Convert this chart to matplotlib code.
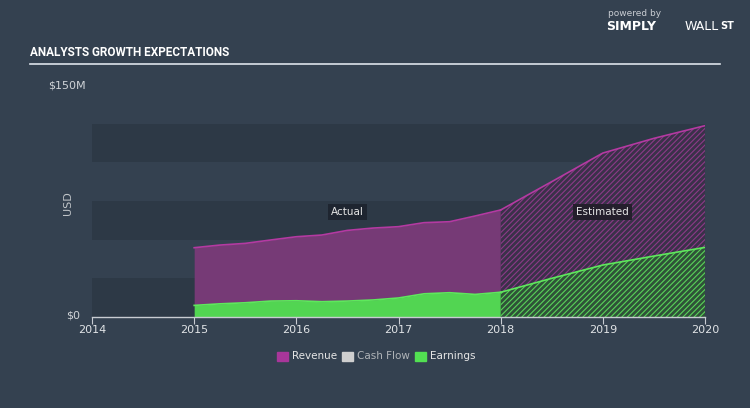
import matplotlib.pyplot as plt
import numpy as np

# Data (USD millions)
rev_years = [2015.0, 2015.25, 2015.5, 2015.75, 2016.0, 2016.25, 2016.5, 2016.75,
             2017.0, 2017.25, 2017.5, 2017.75, 2018.0]
rev_vals = [44.8, 46.5, 47.6, 49.8, 51.9, 53.0, 56.0, 57.5, 58.4, 61.0, 61.6, 65.3, 69.2]
earn_vals = [7.5, 8.5, 9.2, 10.3, 10.5, 9.9, 10.3, 11.0, 12.3, 15.0, 15.7, 14.6, 16.0]

est_years = [2018.0, 2018.5, 2019.0, 2019.5, 2020.0]
rev_est = [69.2, 87.5, 106.0, 115.5, 123.7]
earn_est = [16.0, 25.0, 33.6, 39.4, 45.0]

xticks = [2014, 2015, 2016, 2017, 2018, 2019, 2020]

BG = "#344150"
BAND = "#2d3946"
REV_FILL = "#763a76"
REV_LINE = "#b43aa2"
EARN_FILL = "#52d552"
EARN_LINE = "#5ee85c"

plt.rcParams["hatch.linewidth"] = 0.8

fig = plt.figure(figsize=(7.5, 4.08), dpi=100, facecolor=BG)
ax = fig.add_axes([92 / 750, 1 - 317 / 408, 613 / 750, 232 / 408])
ax.set_facecolor(BG)
ax.set_xlim(2014, 2020)
ax.set_ylim(0, 150)

# alternating bands
for lo in (0, 50, 100):
    ax.axhspan(lo, lo + 25, color=BAND, lw=0, zorder=0)

# actual
ax.fill_between(rev_years, earn_vals, rev_vals, color=REV_FILL, lw=0, zorder=2)
ax.plot(rev_years, rev_vals, color=REV_LINE, lw=1.2, zorder=3)
ax.fill_between(rev_years, 0, earn_vals, color=EARN_FILL, lw=0, zorder=2)
ax.plot(rev_years, earn_vals, color=EARN_LINE, lw=1.2, zorder=3)

# estimated (hatched)
ax.fill_between(est_years, earn_est, rev_est, facecolor="#3a3149", edgecolor="#8c3a88",
                hatch="//////", lw=0, zorder=2)
ax.plot(est_years, rev_est, color=REV_LINE, lw=1.2, zorder=3)
ax.fill_between(est_years, 0, earn_est, facecolor="#2f5238", edgecolor="#5ad35a",
                hatch="//////", lw=0, zorder=2)
ax.plot(est_years, earn_est, color=EARN_LINE, lw=1.2, zorder=3)

for s in ("top", "right", "left"):
    ax.spines[s].set_visible(False)
ax.spines["bottom"].set_color("#c8ccd2")
ax.spines["bottom"].set_linewidth(1)
ax.set_xticks(xticks)
ax.set_xticklabels([str(y) for y in xticks])
ax.tick_params(axis="x", colors="#c8ccd2", length=5, labelsize=8, labelcolor="#e0e3e6", pad=1)
ax.set_yticks([])

ax.text(2016.5, 68, "Actual", ha="center", va="center", fontsize=7.5, color="#e6e6e6",
        bbox=dict(boxstyle="square,pad=0.3", fc="#1e2530", ec="none"), zorder=5)
ax.text(2019.0, 68, "Estimated", ha="center", va="center", fontsize=7.5, color="#e6e6e6",
        bbox=dict(boxstyle="square,pad=0.3", fc="#241f2c", ec="none"), zorder=5)

# y labels
fig.text(80 / 750, 1 - 316 / 408, "$0", ha="right", va="center", fontsize=8, color="#d0d4d8")
fig.text(48 / 750, 1 - 85 / 408, "$150M", ha="left", va="center", fontsize=8, color="#d0d4d8")
fig.text(68 / 750, 1 - 203 / 408, "USD", rotation=90, ha="center", va="center",
         fontsize=8, color="#c0c4c8")

# title and rule
fig.text(30 / 750, 1 - 53 / 408, "ANALYSTS GROWTH EXPECTATIONS", ha="left", va="center",
         fontsize=8.5, fontweight="bold", color="white", family="Roboto")
fig.add_artist(plt.Line2D([30 / 750, 720 / 750], [1 - 64 / 408] * 2, color="#dde3ea", lw=1.2))

# logo text
fig.text(608 / 750, 1 - 14 / 408, "powered by", fontsize=6.5, color="#c8ccd2", va="center")
fig.text(606 / 750, 1 - 26 / 408, "SIMPLY", fontsize=9, fontweight="bold", color="white", va="center")
fig.text(685 / 750, 1 - 26 / 408, "WALL", fontsize=9, color="white", va="center")
fig.text(720 / 750, 1 - 26 / 408, "ST", fontsize=7, fontweight="bold", color="white", va="center")

# legend
items = [("Revenue", "#a8369a", "#e6e6e6"), ("Cash Flow", "#cfcfcf", "#b0b4b8"),
         ("Earnings", "#52e052", "#e6e6e6")]
xs = [277, 342, 415]
for (lab, c, tc), x in zip(items, xs):
    fig.patches.append(plt.Rectangle((x / 750, 1 - 361 / 408), 11 / 750, 9 / 408,
                                     transform=fig.transFigure, color=c))
    fig.text((x + 15) / 750, 1 - 356 / 408, lab, fontsize=7.5, color=tc, va="center")

fig.savefig("out.png", dpi=100, facecolor=BG)
